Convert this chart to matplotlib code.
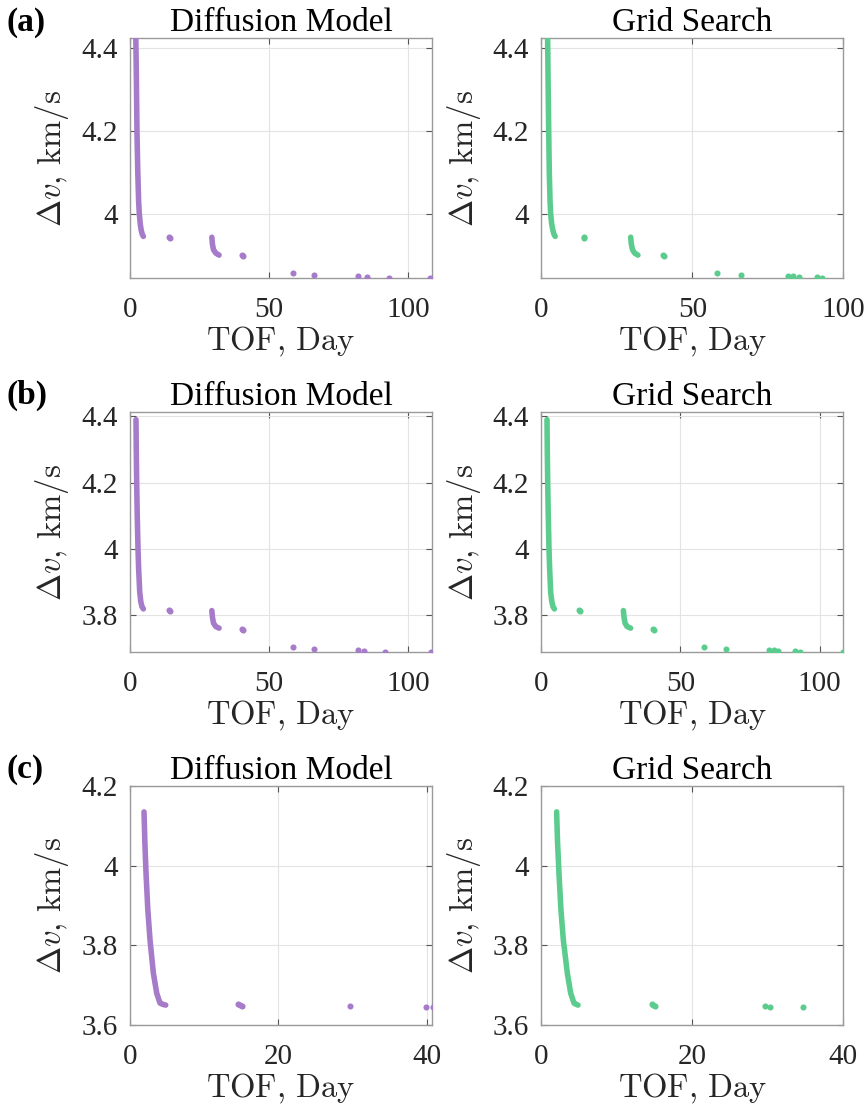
import numpy as np
import matplotlib
matplotlib.use('Agg')
import matplotlib.pyplot as plt
from matplotlib.ticker import FormatStrFormatter

plt.rcParams['font.family'] = ['Liberation Serif', 'DejaVu Serif']
plt.rcParams['mathtext.fontset'] = 'cm'

purple = '#A67BC9'
green = '#5CCC8E'

# ---- panel (a) ----
a_dm_curve_tof = [2.1, 2.3, 2.5, 2.8, 3.1, 3.35, 3.7, 4.0, 4.4, 4.8]
a_dm_curve_dv = [4.42, 4.32, 4.20, 4.10, 4.03, 4.00, 3.975, 3.962, 3.951, 3.946]
a_dm_knee_tof = [29.4, 29.6, 30.0, 30.8, 32.0]
a_dm_knee_dv = [3.944, 3.928, 3.914, 3.906, 3.901]
a_dm_dots_tof = [14.0, 14.3, 40.3, 40.6, 58.5, 66.2, 82.0, 85.1, 92.9, 107.9]
a_dm_dots_dv = [3.945, 3.942, 3.901, 3.899, 3.857, 3.854, 3.851, 3.849, 3.846, 3.846]

a_gs_curve_tof = [2.1, 2.25, 2.45, 2.65, 2.9, 3.1, 3.45, 3.8, 4.2, 4.6]
a_gs_curve_dv = [4.42, 4.32, 4.20, 4.10, 4.03, 4.00, 3.975, 3.962, 3.951, 3.946]
a_gs_knee_tof = [29.6, 29.8, 30.2, 30.9, 32.0]
a_gs_knee_dv = [3.944, 3.928, 3.914, 3.906, 3.901]
a_gs_dots_tof = [14.0, 14.3, 40.3, 40.6, 58.3, 66.2, 81.7, 83.4, 85.3, 91.2, 92.9]
a_gs_dots_dv = [3.945, 3.942, 3.901, 3.899, 3.857, 3.854, 3.851, 3.850, 3.849, 3.848, 3.846]

# ---- panel (b) ----
b_dm_curve_tof = [2.15, 2.25, 2.4, 2.6, 2.88, 3.1, 3.5, 3.9, 4.3, 4.8]
b_dm_curve_dv = [4.39, 4.30, 4.20, 4.10, 4.00, 3.94, 3.869, 3.840, 3.826, 3.819]
b_dm_knee_tof = [29.4, 29.6, 30.0, 30.8, 32.0]
b_dm_knee_dv = [3.814, 3.795, 3.776, 3.766, 3.761]
b_dm_dots_tof = [14.0, 14.3, 40.3, 40.6, 58.5, 66.2, 82.0, 83.9, 91.7, 108.3]
b_dm_dots_dv = [3.816, 3.813, 3.759, 3.756, 3.703, 3.698, 3.695, 3.693, 3.690, 3.689]

b_gs_curve_tof = [2.05, 2.15, 2.3, 2.5, 2.77, 3.0, 3.37, 3.8, 4.2, 4.7]
b_gs_curve_dv = [4.39, 4.30, 4.20, 4.10, 4.00, 3.94, 3.869, 3.840, 3.826, 3.819]
b_gs_knee_tof = [29.5, 29.7, 30.1, 30.8, 32.1]
b_gs_knee_dv = [3.814, 3.795, 3.776, 3.766, 3.761]
b_gs_dots_tof = [13.7, 14.0, 40.3, 40.6, 58.4, 66.2, 81.8, 83.6, 85.0, 91.0, 92.8, 108.5]
b_gs_dots_dv = [3.816, 3.813, 3.759, 3.756, 3.703, 3.698, 3.695, 3.694, 3.693, 3.692, 3.690, 3.689]

# ---- panel (c) ----
c_dm_curve_tof = [1.89, 2.0, 2.16, 2.4, 2.7, 3.15, 3.6, 4.04, 4.4, 4.81]
c_dm_curve_dv = [4.135, 4.06, 3.981, 3.89, 3.813, 3.730, 3.680, 3.655, 3.652, 3.650]
c_dm_dots_tof = [14.6, 14.8, 15.06, 29.6, 39.9, 40.8]
c_dm_dots_dv = [3.652, 3.649, 3.647, 3.647, 3.646, 3.646]

c_gs_curve_tof = [2.03, 2.15, 2.34, 2.6, 2.92, 3.45, 3.89, 4.33, 4.6, 4.86]
c_gs_curve_dv = [4.135, 4.06, 3.981, 3.89, 3.813, 3.730, 3.680, 3.655, 3.652, 3.650]
c_gs_dots_tof = [14.7, 14.85, 15.0, 29.6, 30.3, 34.6]
c_gs_dots_dv = [3.652, 3.649, 3.647, 3.647, 3.646, 3.645]

titles = ['Diffusion Model', 'Grid Search']
row_labels = ['(a)', '(b)', '(c)']
xlims = [[108.5, 100], [108.5, 108.5], [40.7, 40]]
ylims = [(3.846, 4.423), (3.690, 4.412), (3.6, 4.2)]
xticks = [[0, 50, 100], [0, 50, 100], [0, 20, 40]]
yticks = [[4.0, 4.2, 4.4], [3.8, 4.0, 4.2, 4.4], [3.6, 3.8, 4.0, 4.2]]

panels = [
    [(a_dm_curve_tof, a_dm_curve_dv, a_dm_knee_tof, a_dm_knee_dv, a_dm_dots_tof, a_dm_dots_dv),
     (a_gs_curve_tof, a_gs_curve_dv, a_gs_knee_tof, a_gs_knee_dv, a_gs_dots_tof, a_gs_dots_dv)],
    [(b_dm_curve_tof, b_dm_curve_dv, b_dm_knee_tof, b_dm_knee_dv, b_dm_dots_tof, b_dm_dots_dv),
     (b_gs_curve_tof, b_gs_curve_dv, b_gs_knee_tof, b_gs_knee_dv, b_gs_dots_tof, b_gs_dots_dv)],
    [(c_dm_curve_tof, c_dm_curve_dv, None, None, c_dm_dots_tof, c_dm_dots_dv),
     (c_gs_curve_tof, c_gs_curve_dv, None, None, c_gs_dots_tof, c_gs_dots_dv)],
]

fig = plt.figure(figsize=(8.68, 11.1), dpi=100)

lefts = [130 / 868, 541.3 / 868]
width = 302 / 868
tops = [38, 412.3, 786]
bottoms = [278, 651.7, 1025]
label_base = [31, 404, 778]

for r in range(3):
    for c in range(2):
        b = 1 - bottoms[r] / 1110
        h = (bottoms[r] - tops[r]) / 1110
        ax = fig.add_axes([lefts[c], b, width, h])
        color = purple if c == 0 else green
        cx, cy, kx, ky, dx, dy = panels[r][c]
        ax.plot(cx, cy, color=color, lw=4.0, solid_capstyle='round', zorder=3)
        if kx is not None:
            ax.plot(kx, ky, color=color, lw=4.0, solid_capstyle='round', zorder=3)
        ax.plot(dx, dy, 'o', color=color, ms=4.4, mec='none', zorder=3)

        ax.set_xlim(0, xlims[r][c])
        ax.set_ylim(*ylims[r])
        ax.set_xticks(xticks[r])
        ax.set_yticks(yticks[r])
        ax.yaxis.set_major_formatter(FormatStrFormatter('%g'))
        ax.grid(True, color='#e3e3e3', lw=0.8, zorder=0)
        ax.set_axisbelow(True)
        for s in ax.spines.values():
            s.set_color('#9a9a9a')
            s.set_linewidth(1.0)
        ax.tick_params(direction='in', length=4, width=0.8, color='#555555',
                       top=True, right=True, labelsize=21, labelcolor='#262626')
        ax.tick_params(axis='x', pad=14)
        ax.tick_params(axis='y', pad=9)
        ax.set_title(titles[c], fontsize=24, pad=5)
        ax.set_xlabel(r'$\mathrm{TOF,\,Day}$', fontsize=23.5, labelpad=1, color='#262626')
        ax.set_ylabel(r'$\Delta v,\,\mathrm{km/s}$', fontsize=23.5, labelpad=7, color='#262626')

    fig.text(7 / 868, 1 - label_base[r] / 1110, row_labels[r], fontsize=24,
             fontweight='bold', va='baseline', ha='left')

fig.savefig('out.png', dpi=100)
